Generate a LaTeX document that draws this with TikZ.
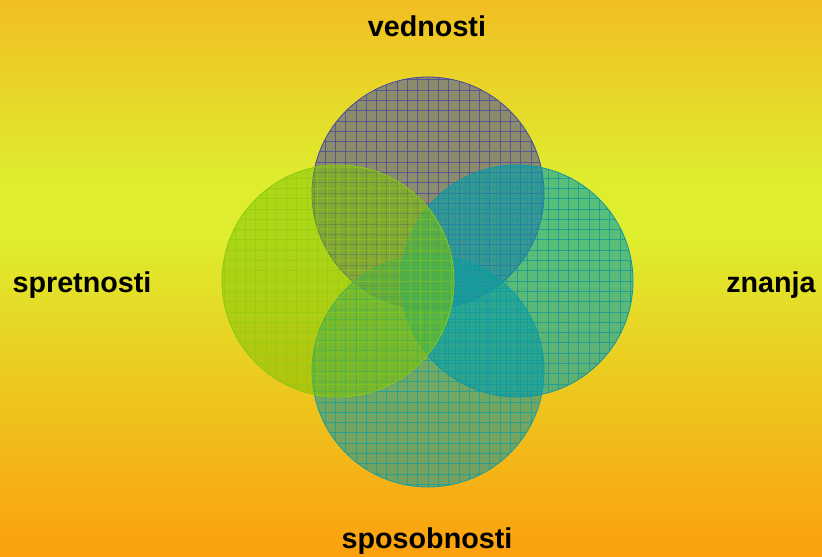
\documentclass[tikz,border=0pt]{standalone}
\usepackage{fontspec}
\setmainfont{Liberation Sans}
\definecolor{bgtop}{RGB}{242,190,34}
\definecolor{bgmid}{RGB}{222,238,46}
\definecolor{bgbot}{RGB}{252,160,14}
\definecolor{topfill}{RGB}{136,136,112}
\definecolor{topline}{RGB}{72,72,160}
\definecolor{leftfill}{RGB}{125,195,0}
\definecolor{leftline}{RGB}{140,200,20}
\definecolor{rightfill}{RGB}{0,160,170}
\definecolor{rightline}{RGB}{20,150,160}
\definecolor{botfill}{RGB}{40,150,140}
\definecolor{botline}{RGB}{20,160,160}
% the middle 25bp--75bp band is fitted to the rectangle; 75bp is the top
\pgfdeclareverticalshading{bgshade}{100bp}{color(0bp)=(bgbot); color(25bp)=(bgbot); color(40bp)=(bgbot!50!bgmid); color(54bp)=(bgmid); color(58.5bp)=(bgmid); color(75bp)=(bgtop); color(100bp)=(bgtop)}
\tikzset{
  label/.style={font=\bfseries\fontsize{24.5}{28}\selectfont, text=black, inner sep=0pt},
  gridline/.style={line width=0.6pt},
}
\newcommand{\gridcircle}[7]{%
  % #1 name, #2 cx, #3 cy, #4 fill, #5 opacity, #6 line colour, #7 line opacity
  \coordinate (#1) at (#2,#3);
  \fill[#4, fill opacity=#5] (#1) circle (116);
  \begin{scope}
    \clip (#1) circle (116);
    \foreach \k in {-12,...,12} {
      \draw[gridline, #6, opacity=#7] ($(#1)+(\k*10.3,-120)$) -- ($(#1)+(\k*10.3,120)$);
      \draw[gridline, #6, opacity=#7] ($(#1)+(-120,\k*10.3)$) -- ($(#1)+(120,\k*10.3)$);
    }
  \end{scope}
  \draw[#6, line width=0.7pt] (#1) circle (116);
}
\usetikzlibrary{calc}
\begin{document}
\begin{tikzpicture}[x=0.03cm,y=-0.03cm]
\useasboundingbox (0,0) rectangle (822,556);
\shade[shading=bgshade] (0,0) rectangle (822,556);

\gridcircle{ctop}{428}{193}{topfill}{0.95}{topline}{0.75}
\gridcircle{cbot}{428}{371}{botfill}{0.62}{botline}{0.75}
\gridcircle{cright}{517}{281}{rightfill}{0.6}{rightline}{0.75}
\gridcircle{cleft}{338}{281}{leftfill}{0.52}{leftline}{0.5}

\node[label] (vednosti) at (427,26) {vednosti};
\node[label] (spretnosti) at (82,285) {spretnosti};
\node[label] (znanja) at (771,285) {znanja};
\node[label] (sposobnosti) at (427,541) {sposobnosti};
\end{tikzpicture}
\end{document}
